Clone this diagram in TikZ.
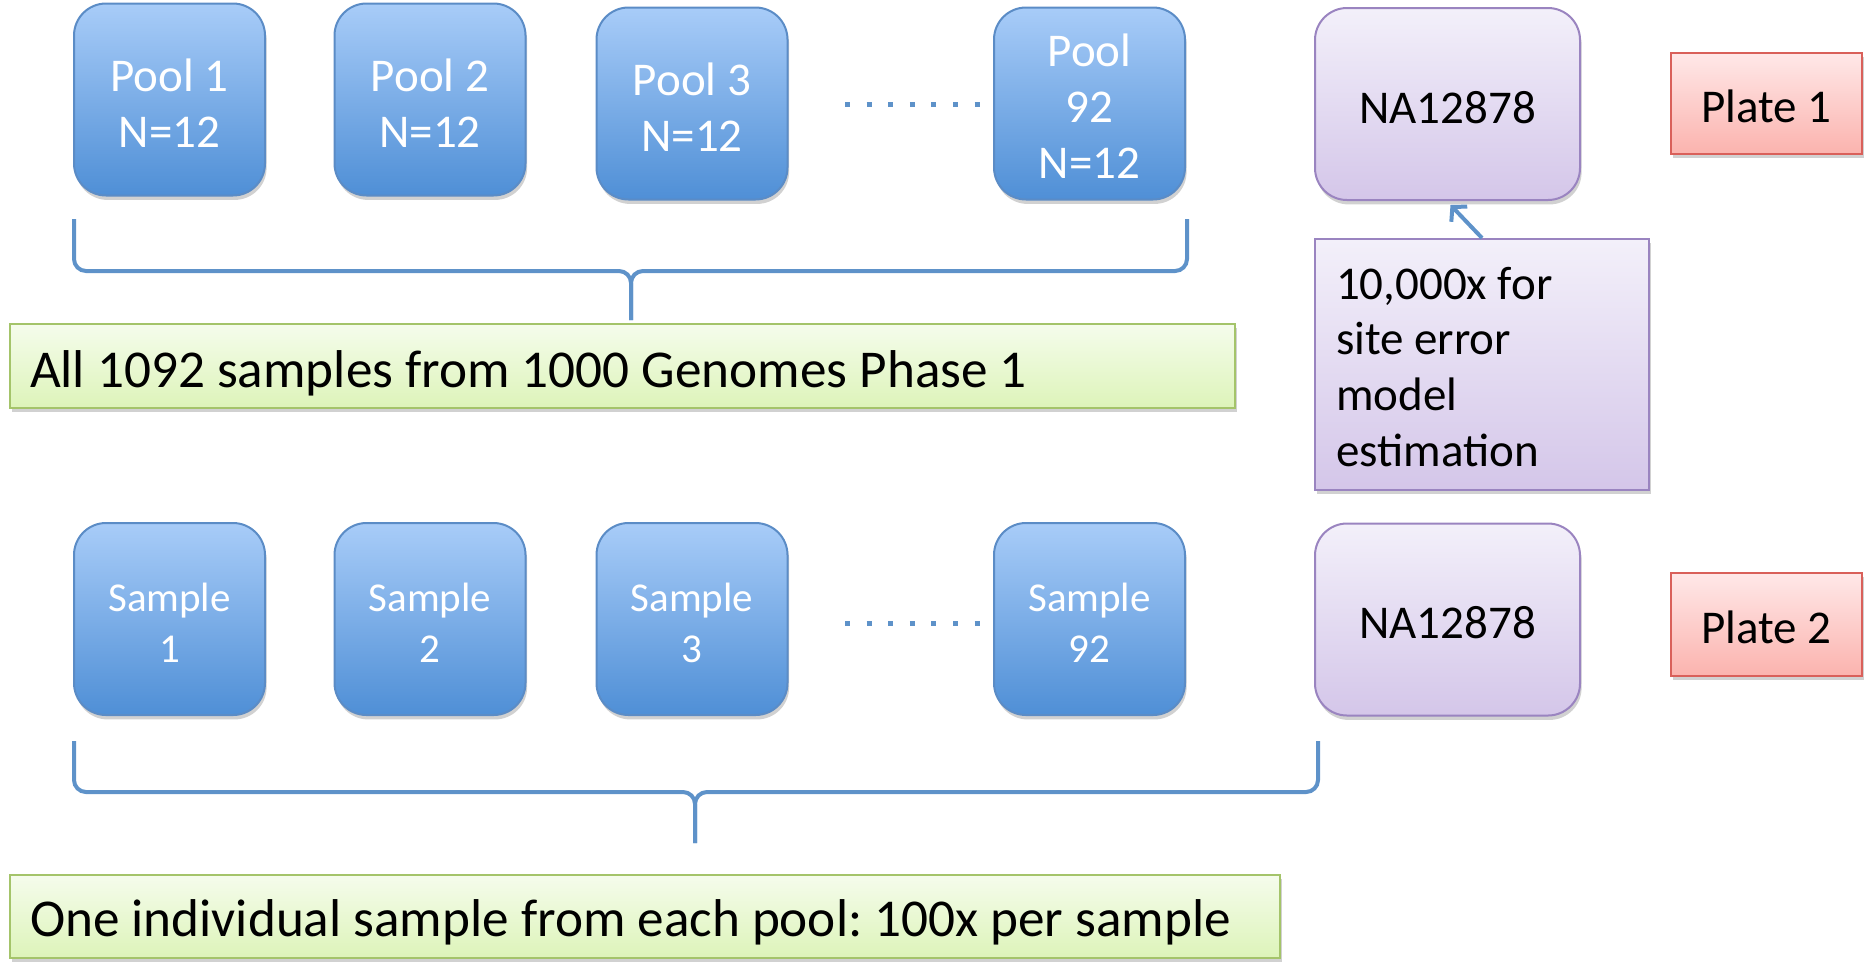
\documentclass[tikz,border=0pt]{standalone}
\usepackage{fontspec}
\setmainfont{Carlito}
\frenchspacing
\usetikzlibrary{arrows.meta,shadows,calc}
\definecolor{blueTop}{HTML}{A8CCF8}
\definecolor{blueBot}{HTML}{4F8FD6}
\definecolor{blueDraw}{HTML}{5B8CC6}
\definecolor{purpleTop}{HTML}{F3F0FA}
\definecolor{purpleBot}{HTML}{D4C6E9}
\definecolor{purpleDraw}{HTML}{9A84C0}
\definecolor{redTop}{HTML}{FFE8E8}
\definecolor{redBot}{HTML}{FBB3AE}
\definecolor{redDraw}{HTML}{D9605A}
\definecolor{greenTop}{HTML}{F5FCEC}
\definecolor{greenBot}{HTML}{DDF4B9}
\definecolor{greenDraw}{HTML}{A4C46A}
\definecolor{braceCol}{HTML}{5E92C9}
% centred lines; #1 = depth of last baseline below the box centre
\newcommand{\ctxt}[2]{\raisebox{-#1}[0pt][0pt]{\begin{tabular}[b]{@{}c@{}}#2\end{tabular}}}
% left-aligned lines in a block of width #2
\newcommand{\ltxt}[3]{\raisebox{-#1}[0pt][0pt]{\makebox[#2][l]{\begin{tabular}[b]{@{}l@{}}#3\end{tabular}}}}
\begin{document}
\frenchspacing
\begin{tikzpicture}[x=0.5pt,y=-0.5pt,
  shadowed/.style={drop shadow={shadow xshift=0.8pt,shadow yshift=-2.2pt,opacity=0.3,fill=black!60}},
  pool/.style={shadowed,draw=blueDraw,line width=1pt,rounded corners=16pt,top color=blueTop,bottom color=blueBot,
    minimum width=95.5pt,minimum height=96pt,inner sep=0pt,text=white,
    font=\fontsize{23.5}{28}\selectfont},
  samp/.style={pool,font=\fontsize{20.5}{25.5}\selectfont},
  nabox/.style={shadowed,draw=purpleDraw,line width=1pt,rounded corners=16pt,top color=purpleTop,bottom color=purpleBot,
    minimum width=132.5pt,minimum height=96pt,inner sep=0pt,text=black,
    font=\fontsize{23.5}{28}\selectfont},
  notebox/.style={shadowed,draw=purpleDraw,line width=1pt,top color=purpleTop,bottom color=purpleBot,
    minimum width=167pt,minimum height=125.5pt,inner sep=0pt,
    font=\fontsize{23.5}{27.9}\selectfont},
  plate/.style={shadowed,draw=redDraw,line width=1pt,top color=redTop,bottom color=redBot,
    minimum width=95.5pt,inner sep=0pt,font=\fontsize{23.5}{28}\selectfont},
  gbox/.style={shadowed,draw=greenDraw,line width=1pt,top color=greenTop,bottom color=greenBot,
    inner sep=0pt,font=\fontsize{26.6}{32}\selectfont},
  brace/.style={draw=braceCol,line width=2pt,rounded corners=6pt},
  dotline/.style={draw=braceCol,line width=2.5pt,dash pattern=on 2.5pt off 8.3pt},
  arr/.style={draw=braceCol,line width=2pt,-{Straight Barb[length=5pt,width=11pt,line width=2pt]}}
]
\useasboundingbox (0,0) rectangle (1875,966);
% top row
\node[pool] (p1) at (169.5,99.5) {\ctxt{23.8pt}{Pool 1\\N=12}};
\node[pool] (p2) at (430,99.5) {\ctxt{23.8pt}{Pool 2\\N=12}};
\node[pool] (p3) at (692,103.5) {\ctxt{23.8pt}{Pool 3\\N=12}};
\node[pool] (p92) at (1089.5,103.5) {\ctxt{37.4pt}{Pool\\92\\N=12}};
\coordinate (d1a) at (845,104);
\coordinate (d1b) at (982,104);
\draw[dotline] (d1a) -- (d1b);
\node[nabox] (na1) at (1447.5,104) {\ctxt{9.5pt}{NA12878}};
\node[plate,minimum height=50.5pt] (pl1) at (1766.5,103.5) {\ctxt{9.5pt}{Plate 1}};
% top brace
\coordinate (b1l) at (74,219);
\coordinate (b1r) at (1187,219);
\coordinate (b1t) at (631,320);
\draw[brace] (b1l) -- (74,271) -- (631,271) -- (b1t);
\draw[brace] (b1r) -- (1187,271) -- (631,271) -- (b1t);
\node[gbox,minimum width=612.5pt,minimum height=42pt] (g1) at (622.5,366)
  {\ltxt{10.5pt}{592.5pt}{All 1092 samples from 1000 Genomes Phase 1}};
% note
\node[notebox] (note) at (1482,364.5)
  {\ltxt{51pt}{146pt}{10,000x for\\site error\\model\\estimation}};
\draw[arr] (note.north) -- ($(na1.south)+(3,4)$);
% bottom row
\node[samp] (s1) at (169.5,619) {\ctxt{21.6pt}{Sample\\1}};
\node[samp] (s2) at (430,619) {\ctxt{21.6pt}{Sample\\2}};
\node[samp] (s3) at (692,619) {\ctxt{21.6pt}{Sample\\3}};
\node[samp] (s92) at (1089.5,619) {\ctxt{21.6pt}{Sample\\92}};
\coordinate (d2a) at (845,623);
\coordinate (d2b) at (982,623);
\draw[dotline] (d2a) -- (d2b);
\node[nabox] (na2) at (1447.5,619.5) {\ctxt{9.5pt}{NA12878}};
\node[plate,minimum height=51.5pt] (pl2) at (1766.5,624.5) {\ctxt{9.5pt}{Plate 2}};
% bottom brace
\coordinate (b2l) at (74,741);
\coordinate (b2r) at (1318,741);
\coordinate (b2t) at (695,843);
\draw[brace] (b2l) -- (74,792) -- (695,792) -- (b2t);
\draw[brace] (b2r) -- (1318,792) -- (695,792) -- (b2t);
\node[gbox,minimum width=635pt,minimum height=41.5pt] (g2) at (645,916.5)
  {\ltxt{9.75pt}{615pt}{One individual sample from each pool: 100x per sample}};
\end{tikzpicture}
\end{document}
